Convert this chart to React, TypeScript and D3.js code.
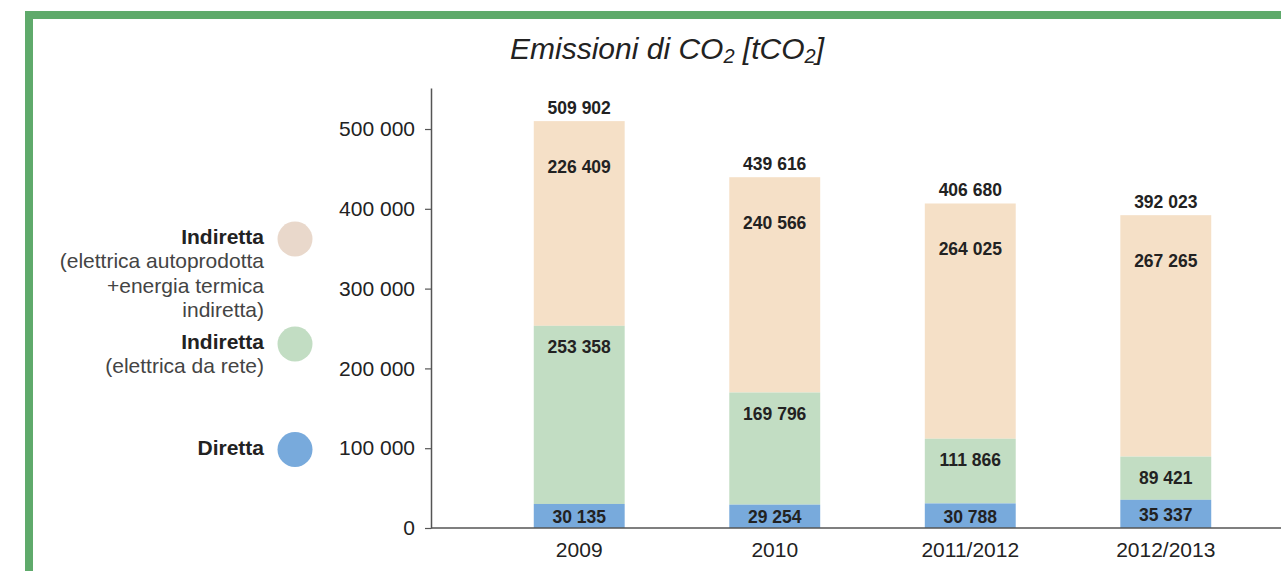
import React, { useEffect, useRef } from "react";
import * as d3 from "d3";

const categories = ["2009", "2010", "2011/2012", "2012/2013"];
const diretta = [30135, 29254, 30788, 35337];
const indirettaRete = [253358, 169796, 111866, 89421];
const indirettaAuto = [226409, 240566, 264025, 267265];
const totals = [509902, 439616, 406680, 392023];
const yTicks = [0, 100000, 200000, 300000, 400000, 500000];

const COLORS = {
  blue: "#78aadc",
  green: "#c2ddc3",
  peach: "#f5e0c7",
  legendPeach: "#e9d8cb",
  border: "#5faa6b",
  text: "#222222",
  sub: "#444444",
  axis: "#555555",
};

const FONT = "'Liberation Sans', Arial, Helvetica, sans-serif";

export default function App() {
  const ref = useRef<SVGSVGElement | null>(null);

  useEffect(() => {
    const svg = d3.select(ref.current);
    svg.selectAll("*").remove();

    const fmt = d3
      .formatLocale({ decimal: ",", thousands: " ", grouping: [3], currency: ["", ""] })
      .format(",d");

    const x = d3
      .scaleBand<string>()
      .domain(categories)
      .range([436, 1309])
      .paddingInner(0.535)
      .paddingOuter(0.5);
    const y = d3.scaleLinear().domain([0, 551400]).range([528, 88]);

    // green frame
    svg.append("rect").attr("x", 25).attr("y", 11).attr("width", 1300).attr("height", 8).attr("fill", COLORS.border);
    svg.append("rect").attr("x", 25).attr("y", 11).attr("width", 8).attr("height", 600).attr("fill", COLORS.border);

    // title
    const title = svg
      .append("text")
      .attr("x", 667)
      .attr("y", 59)
      .attr("text-anchor", "middle")
      .attr("font-family", FONT)
      .attr("font-style", "italic")
      .attr("font-size", 30)
      .attr("fill", COLORS.text);
    title.append("tspan").text("Emissioni di CO");
    title.append("tspan").attr("font-size", 20).attr("dy", 4).text("2");
    title.append("tspan").attr("dy", -4).text(" [tCO");
    title.append("tspan").attr("font-size", 20).attr("dy", 4).text("2");
    title.append("tspan").attr("dy", -4).text("]");

    const g = svg.append("g");

    // bars
    categories.forEach((c, i) => {
      const bx = x(c)!;
      const bw = x.bandwidth();
      // peach: from rete value to total
      g.append("rect")
        .attr("x", bx)
        .attr("y", y(totals[i]))
        .attr("width", bw)
        .attr("height", y(indirettaRete[i]) - y(totals[i]))
        .attr("fill", COLORS.peach);
      // green: from diretta to rete value
      g.append("rect")
        .attr("x", bx)
        .attr("y", y(indirettaRete[i]))
        .attr("width", bw)
        .attr("height", y(diretta[i]) - y(indirettaRete[i]))
        .attr("fill", COLORS.green);
      // blue
      g.append("rect")
        .attr("x", bx)
        .attr("y", y(diretta[i]))
        .attr("width", bw)
        .attr("height", y(0) - y(diretta[i]))
        .attr("fill", COLORS.blue);

      const cx = bx + bw / 2;
      const lab = (yy: number, v: number) =>
        g
          .append("text")
          .attr("x", cx)
          .attr("y", yy)
          .attr("text-anchor", "middle")
          .attr("dominant-baseline", "central")
          .attr("font-family", FONT)
          .attr("font-weight", "bold")
          .attr("font-size", 17.5)
          .attr("fill", COLORS.text)
          .text(fmt(v));
      lab(y(totals[i]) - 13, totals[i]);
      lab(y(totals[i]) + 46, indirettaAuto[i]);
      lab(y(indirettaRete[i]) + 21, indirettaRete[i]);
      lab((y(diretta[i]) + y(0)) / 2 + 1, diretta[i]);
    });

    // y axis
    const yAxis = svg
      .append("g")
      .attr("transform", "translate(431,0)")
      .call(
        d3
          .axisLeft(y)
          .tickValues(yTicks)
          .tickFormat((d) => fmt(d as number))
          .tickSize(6)
          .tickSizeOuter(0)
          .tickPadding(10)
      );
    yAxis.select(".domain").attr("stroke", COLORS.axis).attr("stroke-width", 1.5);
    yAxis.selectAll(".tick line").attr("stroke", COLORS.axis).attr("stroke-width", 1.2);
    yAxis
      .selectAll(".tick text")
      .attr("font-family", FONT)
      .attr("font-size", 21)
      .attr("fill", COLORS.text);

    // x axis
    const xAxis = svg
      .append("g")
      .attr("transform", "translate(0,528)")
      .call(d3.axisBottom(x).tickSize(0).tickPadding(14));
    xAxis.select(".domain").remove();
    xAxis
      .selectAll(".tick text")
      .attr("font-family", FONT)
      .attr("font-size", 21)
      .attr("fill", COLORS.text);
    svg
      .append("line")
      .attr("x1", 431)
      .attr("x2", 1281)
      .attr("y1", 528)
      .attr("y2", 528)
      .attr("stroke", COLORS.axis)
      .attr("stroke-width", 1.5);

    // legend
    const legend = [
      { color: COLORS.legendPeach, cy: 239, lines: [["Indiretta", true], ["(elettrica autoprodotta", false], ["+energia termica", false], ["indiretta)", false]] },
      { color: COLORS.green, cy: 344, lines: [["Indiretta", true], ["(elettrica da rete)", false]] },
      { color: COLORS.blue, cy: 449.5, lines: [["Diretta", true]] },
    ];
    legend.forEach((item) => {
      svg.append("circle").attr("cx", 295).attr("cy", item.cy).attr("r", 17.5).attr("fill", item.color);
      item.lines.forEach(([t, bold], j) => {
        svg
          .append("text")
          .attr("x", 264)
          .attr("y", item.cy + 5 + j * 24.3)
          .attr("text-anchor", "end")
          .attr("font-family", FONT)
          .attr("font-size", 21)
          .attr("font-weight", bold ? "bold" : "normal")
          .attr("fill", bold ? COLORS.text : COLORS.sub)
          .text(t as string);
      });
    });
  }, []);

  return (
    <svg
      ref={ref}
      width={1281}
      height={571}
      style={{ position: "absolute", left: 0, top: 0, background: "#fff" }}
    />
  );
}
